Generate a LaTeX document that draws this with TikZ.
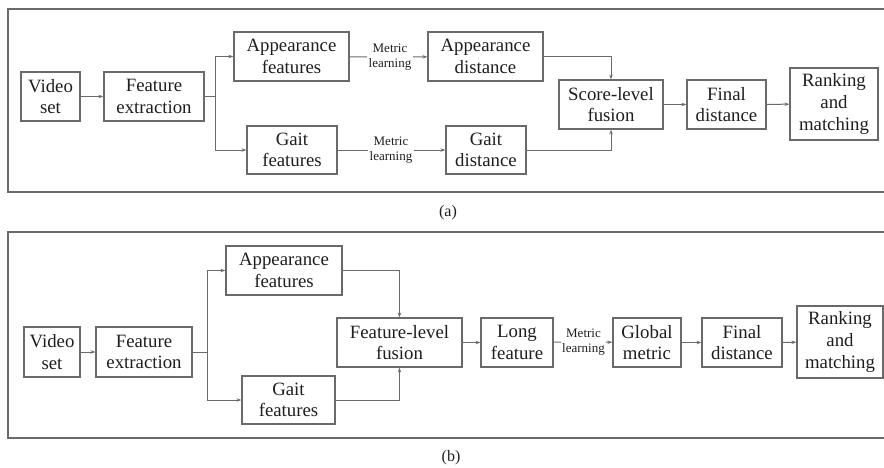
\documentclass[tikz,border=0pt]{standalone}
\usepackage{fontspec}
\setmainfont{Liberation Serif}
\usetikzlibrary{arrows.meta}
\definecolor{linegray}{HTML}{6A6A6A}
\definecolor{textgray}{HTML}{1E1E1E}
\tikzset{
  box/.style={draw=linegray, line width=1.2pt, rectangle, inner sep=0pt,
    align=center, text=textgray, font=\fontsize{18.8}{21.7}\selectfont},
  tag/.style={inner sep=1.5pt, align=center, text=textgray,
    font=\fontsize{13}{14.8}\selectfont},
  caption/.style={inner sep=0pt, text=textgray, font=\fontsize{16}{18}\selectfont},
  link/.style={draw=linegray, line width=1pt},
  flow/.style={link, -{Stealth[length=5pt,width=3.5pt]}},
  frame/.style={draw=linegray, line width=1.3pt},
}
\begin{document}
\begin{tikzpicture}[x=1pt, y=-1pt]
\clip (0,0) rectangle (884,467);

% ---------- (a) score-level fusion ----------
\draw[frame] (8,9) rectangle (895,192);
\node[box, minimum width=59pt,  minimum height=49pt] (va)   at (50.5,96.5)  {Video\\set};
\node[box, minimum width=100pt, minimum height=49pt] (fea)  at (154,96.5)   {Feature\\extraction};
\node[box, minimum width=115pt, minimum height=49pt] (appf) at (291.5,56.5) {Appearance\\features};
\node[box, minimum width=90pt,  minimum height=48pt] (gaf)  at (292,150)    {Gait\\features};
\node[box, minimum width=115pt, minimum height=49pt] (appd) at (485.5,56.5) {Appearance\\distance};
\node[box, minimum width=80pt,  minimum height=48pt] (gad)  at (486,150)    {Gait\\distance};
\node[box, minimum width=104pt, minimum height=49pt] (sfu)  at (611,104.5)  {Score-level\\fusion};
\node[box, minimum width=79pt,  minimum height=49pt] (fda)  at (726.5,104.5){Final\\distance};
\node[box, minimum width=88pt,  minimum height=72pt] (rka)  at (834,104)    {Ranking\\and\\matching};
\node[tag] (mla1) at (390,57)  {Metric\\learning};
\node[tag] (mla2) at (391,150) {Metric\\learning};
\coordinate (bra) at (215,96.5);

\draw[flow] (va) -- (fea);
\draw[link] (fea) -- (bra);
\draw[flow] (bra) |- (appf);
\draw[flow] (bra) |- (gaf);
\draw[link] (appf) -- (mla1);
\draw[flow] (mla1) -- (appd);
\draw[link] (gaf) -- (mla2);
\draw[flow] (mla2) -- (gad);
\draw[flow] (appd.east) -| (sfu.north);
\draw[flow] (gad.east) -| (sfu.south);
\draw[flow] (sfu) -- (fda);
\draw[flow] (fda) -- (rka);
\node[caption] (capa) at (448,213) {(a)};

% ---------- (b) feature-level fusion ----------
\draw[frame] (8,232) rectangle (895,438);
\node[box, minimum width=56pt,  minimum height=50pt] (vb)   at (52,352)     {Video\\set};
\node[box, minimum width=96pt,  minimum height=50pt] (feb)  at (144,352)    {Feature\\extraction};
\node[box, minimum width=116pt, minimum height=49pt] (appb) at (284,270.5)  {Appearance\\features};
\node[box, minimum width=93pt,  minimum height=48pt] (gab)  at (288.5,400)  {Gait\\features};
\node[box, minimum width=125pt, minimum height=49pt] (ffu)  at (399.5,342.5){Feature-level\\fusion};
\node[box, minimum width=72pt,  minimum height=49pt] (lng)  at (517,342.5)  {Long\\feature};
\node[box, minimum width=68pt,  minimum height=49pt] (glb)  at (647,342.5)  {Global\\metric};
\node[box, minimum width=80pt,  minimum height=49pt] (fdb)  at (742,342.5)  {Final\\distance};
\node[box, minimum width=86pt,  minimum height=72pt] (rkb)  at (840,342)    {Ranking\\and\\matching};
\node[tag, inner sep=0.8pt] (mlb) at (583.5,342) {Metric\\learning};
\coordinate (brb) at (207,352);

\draw[flow] (vb) -- (feb);
\draw[link] (feb) -- (brb);
\draw[flow] (brb) |- (appb);
\draw[flow] (brb) |- (gab);
\draw[flow] (appb.east) -| (ffu.north);
\draw[flow] (gab.east) -| (ffu.south);
\draw[flow] (ffu) -- (lng);
\draw[link] (lng) -- (mlb);
\draw[flow] (mlb) -- (glb);
\draw[flow] (glb) -- (fdb);
\draw[flow] (fdb) -- (rkb);
\node[caption] (capb) at (451,458) {(b)};
\end{tikzpicture}
\end{document}
